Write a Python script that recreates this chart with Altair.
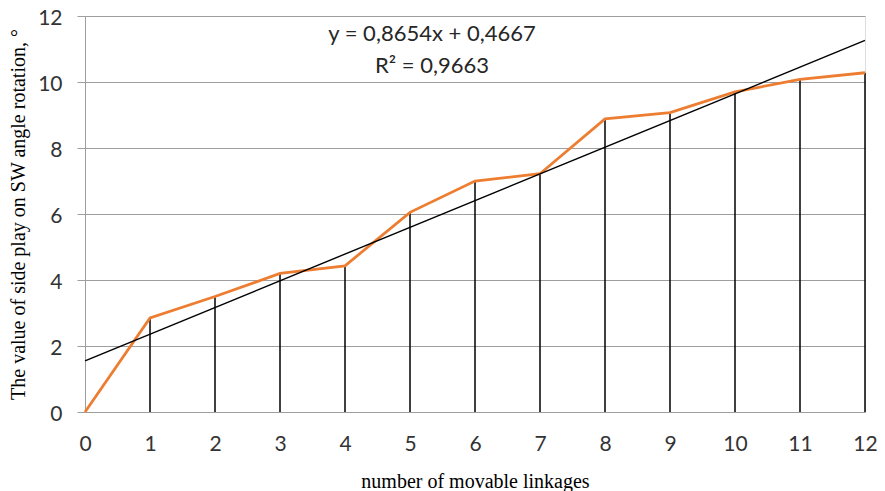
import altair as alt
import pandas as pd

# ---- data ----
linkages = [0, 1, 2, 3, 4, 5, 6, 7, 8, 9, 10, 11, 12]
side_play = [0.0, 2.85, 3.5, 4.2, 4.43, 6.05, 7.0, 7.22, 8.88, 9.07, 9.7, 10.08, 10.28]
x_ticks = [0, 1, 2, 3, 4, 5, 6, 7, 8, 9, 10, 11, 12]
y_ticks = [0, 2, 4, 6, 8, 10, 12]
equation_text = "y = 0,8654x + 0,4667"
r2_text = "R² = 0,9663"
x_title = "number of movable linkages"
y_title = "The value of side play on SW angle rotation, °"

df = pd.DataFrame({"n": linkages, "v": side_play})

W, H = 780, 396
GRID = "#9e9e9e"
LABEL_FONT = "Lato"
TITLE_FONT = "Liberation Serif"
LABEL_COLOR = "#333333"

xs = alt.Scale(domain=[0, 12], nice=False, zero=False)
ys = alt.Scale(domain=[0, 12], nice=False)

x_axis = alt.Axis(
    values=x_ticks, format="d", title=x_title, grid=False, ticks=False, tickSize=0,
    domainColor=GRID, domainWidth=1,
    labelFont=LABEL_FONT, labelFontSize=21, labelColor=LABEL_COLOR,
    labelBaseline="alphabetic", labelPadding=38, labelFlush=False,
    titleFont=TITLE_FONT, titleFontSize=20, titleFontWeight="normal", titleColor="black",
    titleBaseline="alphabetic", titleY=75, titleX=W / 2, titleAlign="center",
)
y_axis = alt.Axis(
    values=y_ticks, format="d", title=y_title, grid=True, gridColor=GRID, gridWidth=1,
    ticks=True, tickSize=8, tickColor=GRID, tickWidth=1,
    domainColor=GRID, domainWidth=1,
    labelFont=LABEL_FONT, labelFontSize=21, labelColor=LABEL_COLOR,
    labelPadding=15, labelBaseline="alphabetic", labelOffset=8, labelFlush=False,
    titleFont=TITLE_FONT, titleFontSize=20, titleFontWeight="normal", titleColor="black",
    titleAngle=270, titleBaseline="alphabetic", titleAlign="center",
    titleX=-61, titleY=H / 2,
)

base = alt.Chart(df)

drops = base.mark_rule(color="black", strokeWidth=1.5).encode(
    x=alt.X("n:Q", scale=xs, axis=x_axis),
    y=alt.Y("v:Q", scale=ys, axis=y_axis),
    y2=alt.datum(0),
)

series = base.mark_line(color="#ED7D31", strokeWidth=2.8).encode(
    x=alt.X("n:Q", scale=xs),
    y=alt.Y("v:Q", scale=ys),
)

trend = base.transform_regression("n", "v", extent=[0, 12]).mark_line(
    color="black", strokeWidth=1.4
).encode(
    x=alt.X("n:Q", scale=xs),
    y=alt.Y("v:Q", scale=ys),
)

eq = alt.Chart(pd.DataFrame({"t": [equation_text]})).mark_text(
    font=LABEL_FONT, fontSize=22, color="#262626", align="center", baseline="alphabetic"
).encode(text="t:N", x=alt.value(347), y=alt.value(25))

r2 = alt.Chart(pd.DataFrame({"t": [r2_text]})).mark_text(
    font=LABEL_FONT, fontSize=22, color="#262626", align="center", baseline="alphabetic"
).encode(text="t:N", x=alt.value(347), y=alt.value(57))

chart = alt.layer(drops, series, trend, eq, r2).properties(
    width=W, height=H,
    autosize=alt.AutoSizeParams(type="none"),
    padding={"left": 77, "top": 8, "right": 12, "bottom": 79},
).configure_view(stroke=None).configure(background="white")

chart.save("out.html", embed_options={"renderer": "svg", "actions": False})
